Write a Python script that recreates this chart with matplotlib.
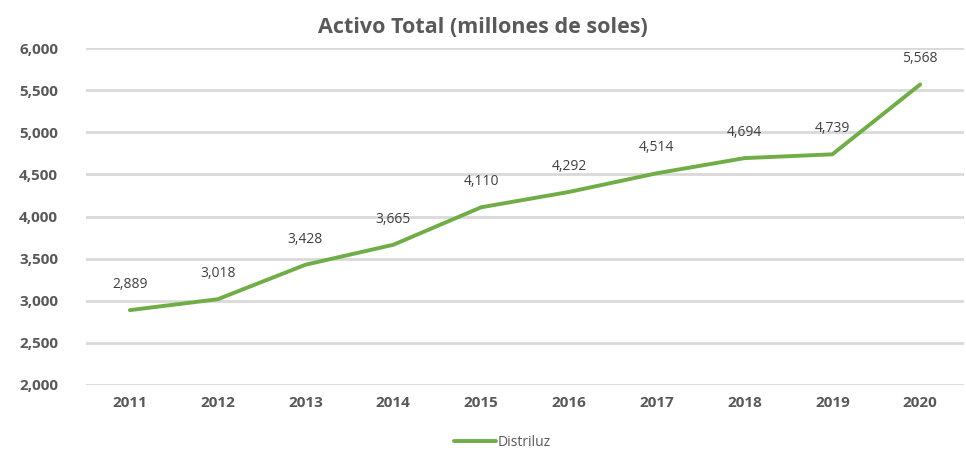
import matplotlib.pyplot as plt
from matplotlib.ticker import FuncFormatter

years = ['2011', '2012', '2013', '2014', '2015', '2016', '2017', '2018', '2019', '2020']
activo = [2889, 3018, 3428, 3665, 4110, 4292, 4514, 4694, 4739, 5568]

plt.rcParams['font.family'] = ['Open Sans', 'DejaVu Sans']

fig = plt.figure(figsize=(9.66, 4.54), dpi=100)
ax = fig.add_axes([0.089, 0.152, 0.909, 0.742])

x = range(len(years))
ax.plot(x, activo, color='#70AD47', lw=2.8, label='Distriluz', solid_capstyle='round')
for xi, v in zip(x, activo):
    ax.annotate(f'{v:,}', (xi, v), xytext=(0, 13), textcoords='offset points',
                ha='center', va='bottom', fontsize=10, color='#404040')

ax.set_xlim(-0.5, len(years) - 0.5)
ax.set_ylim(2000, 6000)
ax.set_yticks(range(2000, 6001, 500))
ax.yaxis.set_major_formatter(FuncFormatter(lambda v, p: f'{int(v):,}'))
ax.set_xticks(list(x))
ax.set_xticklabels(years)
ax.tick_params(length=0, labelsize=11, labelcolor='#595959', pad=8)
for lab in ax.get_xticklabels() + ax.get_yticklabels():
    lab.set_fontweight('bold')
ax.tick_params(axis='y', pad=20)
ax.grid(axis='y', color='#D9D9D9', lw=2)
ax.set_axisbelow(True)
for s in ax.spines.values():
    s.set_visible(False)

fig.text(0.5, 0.94, 'Activo Total (millones de soles)', ha='center', va='center',
         fontsize=15.5, fontweight='bold', color='#595959')
fig.legend(loc='center', bbox_to_anchor=(0.52, 0.025), frameon=False, fontsize=10,
           handlelength=3, handletextpad=0.1, labelcolor='#595959')

fig.savefig('out.png', dpi=100)
